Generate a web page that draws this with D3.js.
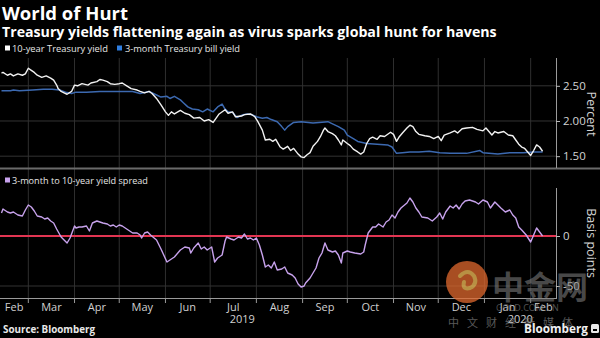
<!DOCTYPE html>
<html><head><meta charset="utf-8">
<script src="https://cdn.jsdelivr.net/npm/d3@7"></script>
<style>html,body{margin:0;padding:0;background:#000;overflow:hidden}svg{display:block}</style>
</head><body>
<script>
// ---------- DATA ----------
const tenYearDates = ["2019-02-11","2019-02-12","2019-02-15","2019-02-17","2019-02-19","2019-02-22","2019-02-25","2019-02-27","2019-03-01","2019-03-03","2019-03-05","2019-03-07","2019-03-10","2019-03-13","2019-03-16","2019-03-18","2019-03-20","2019-03-21","2019-03-23","2019-03-25","2019-03-27","2019-03-30","2019-04-01","2019-04-03","2019-04-06","2019-04-10","2019-04-12","2019-04-16","2019-04-18","2019-04-20","2019-04-23","2019-04-25","2019-04-28","2019-05-01","2019-05-03","2019-05-06","2019-05-09","2019-05-13","2019-05-15","2019-05-18","2019-05-21","2019-05-23","2019-05-26","2019-05-29","2019-06-01","2019-06-03","2019-06-05","2019-06-07","2019-06-11","2019-06-14","2019-06-17","2019-06-20","2019-06-24","2019-06-27","2019-06-30","2019-07-03","2019-07-05","2019-07-07","2019-07-11","2019-07-13","2019-07-16","2019-07-18","2019-07-22","2019-07-24","2019-07-28","2019-07-31","2019-08-02","2019-08-05","2019-08-07","2019-08-10","2019-08-12","2019-08-14","2019-08-17","2019-08-19","2019-08-22","2019-08-24","2019-08-26","2019-08-29","2019-08-31","2019-09-02","2019-09-04","2019-09-06","2019-09-08","2019-09-11","2019-09-13","2019-09-15","2019-09-16","2019-09-18","2019-09-21","2019-09-23","2019-09-25","2019-09-27","2019-09-28","2019-10-01","2019-10-03","2019-10-05","2019-10-08","2019-10-10","2019-10-12","2019-10-14","2019-10-16","2019-10-18","2019-10-21","2019-10-23","2019-10-26","2019-10-30","2019-11-01","2019-11-03","2019-11-05","2019-11-07","2019-11-10","2019-11-12","2019-11-14","2019-11-16","2019-11-18","2019-11-22","2019-11-25","2019-11-28","2019-12-01","2019-12-03","2019-12-05","2019-12-09","2019-12-12","2019-12-14","2019-12-17","2019-12-20","2019-12-24","2019-12-27","2019-12-31","2020-01-02","2020-01-04","2020-01-06","2020-01-08","2020-01-10","2020-01-14","2020-01-17","2020-01-20","2020-01-22","2020-01-24","2020-01-26","2020-01-28","2020-01-30","2020-02-01","2020-02-03","2020-02-05","2020-02-07","2020-02-09"];
const tenYearYield = [2.68,2.69,2.65,2.67,2.64,2.67,2.65,2.67,2.75,2.72,2.69,2.65,2.62,2.64,2.61,2.58,2.51,2.46,2.42,2.40,2.38,2.42,2.51,2.50,2.53,2.51,2.54,2.56,2.59,2.58,2.56,2.53,2.52,2.53,2.54,2.50,2.46,2.44,2.42,2.40,2.42,2.39,2.32,2.23,2.13,2.08,2.13,2.10,2.15,2.11,2.09,2.04,2.05,2.00,2.02,1.98,2.04,2.10,2.16,2.11,2.13,2.06,2.07,2.09,2.10,2.06,1.99,1.87,1.73,1.74,1.71,1.74,1.63,1.60,1.64,1.58,1.61,1.53,1.49,1.48,1.52,1.55,1.64,1.71,1.78,1.87,1.90,1.85,1.82,1.79,1.73,1.66,1.73,1.68,1.65,1.60,1.56,1.53,1.56,1.68,1.75,1.77,1.74,1.79,1.78,1.84,1.81,1.71,1.78,1.83,1.90,1.94,1.92,1.85,1.81,1.79,1.78,1.75,1.78,1.72,1.80,1.83,1.86,1.83,1.89,1.90,1.91,1.88,1.86,1.90,1.85,1.80,1.85,1.83,1.85,1.80,1.79,1.73,1.67,1.63,1.61,1.56,1.51,1.58,1.66,1.63,1.57];

const billDates = ["2019-02-11","2019-02-17","2019-02-19","2019-02-23","2019-03-04","2019-03-11","2019-03-17","2019-03-22","2019-03-26","2019-03-30","2019-04-02","2019-04-09","2019-04-18","2019-04-27","2019-05-06","2019-05-10","2019-05-15","2019-05-21","2019-05-26","2019-05-29","2019-06-02","2019-06-04","2019-06-07","2019-06-11","2019-06-13","2019-06-16","2019-06-19","2019-06-23","2019-06-26","2019-06-29","2019-07-03","2019-07-06","2019-07-09","2019-07-11","2019-07-13","2019-07-16","2019-07-19","2019-07-23","2019-07-26","2019-07-29","2019-08-01","2019-08-05","2019-08-08","2019-08-11","2019-08-15","2019-08-18","2019-08-20","2019-08-22","2019-08-26","2019-08-31","2019-09-08","2019-09-18","2019-09-20","2019-09-25","2019-09-29","2019-10-01","2019-10-05","2019-10-08","2019-10-14","2019-10-21","2019-10-28","2019-10-31","2019-11-03","2019-11-07","2019-11-12","2019-11-18","2019-11-25","2019-12-02","2019-12-09","2019-12-20","2019-12-29","2019-12-31","2020-01-10","2020-01-18","2020-01-27","2020-02-03","2020-02-09"];
const billYield = [2.43,2.43,2.44,2.43,2.44,2.45,2.45,2.44,2.41,2.39,2.41,2.41,2.42,2.42,2.42,2.42,2.39,2.42,2.37,2.34,2.35,2.32,2.35,2.30,2.26,2.20,2.17,2.16,2.13,2.17,2.13,2.20,2.24,2.17,2.13,2.12,2.05,2.09,2.10,2.09,2.06,2.04,2.05,2.02,1.99,1.92,1.87,1.92,1.98,1.99,1.97,1.99,1.97,1.92,1.87,1.80,1.75,1.71,1.68,1.67,1.66,1.63,1.54,1.55,1.56,1.56,1.57,1.55,1.54,1.54,1.58,1.55,1.53,1.55,1.55,1.56,1.56];

const spreadDates = ["2019-02-11","2019-02-12","2019-02-15","2019-02-17","2019-02-19","2019-02-21","2019-02-22","2019-02-25","2019-02-27","2019-03-01","2019-03-03","2019-03-05","2019-03-07","2019-03-10","2019-03-12","2019-03-14","2019-03-16","2019-03-18","2019-03-20","2019-03-23","2019-03-25","2019-03-27","2019-03-29","2019-04-01","2019-04-02","2019-04-04","2019-04-06","2019-04-09","2019-04-11","2019-04-13","2019-04-16","2019-04-18","2019-04-20","2019-04-23","2019-04-25","2019-04-27","2019-04-29","2019-05-01","2019-05-03","2019-05-06","2019-05-08","2019-05-10","2019-05-13","2019-05-15","2019-05-16","2019-05-18","2019-05-20","2019-05-22","2019-05-26","2019-05-29","2019-06-02","2019-06-04","2019-06-07","2019-06-11","2019-06-14","2019-06-17","2019-06-18","2019-06-20","2019-06-23","2019-06-25","2019-06-27","2019-06-29","2019-07-02","2019-07-04","2019-07-06","2019-07-09","2019-07-11","2019-07-12","2019-07-15","2019-07-17","2019-07-20","2019-07-22","2019-07-24","2019-07-26","2019-07-28","2019-07-30","2019-08-01","2019-08-03","2019-08-05","2019-08-07","2019-08-09","2019-08-11","2019-08-13","2019-08-15","2019-08-18","2019-08-20","2019-08-22","2019-08-25","2019-08-27","2019-08-29","2019-08-31","2019-09-02","2019-09-03","2019-09-06","2019-09-10","2019-09-12","2019-09-14","2019-09-16","2019-09-18","2019-09-21","2019-09-23","2019-09-25","2019-09-27","2019-09-28","2019-10-01","2019-10-03","2019-10-06","2019-10-10","2019-10-12","2019-10-13","2019-10-15","2019-10-18","2019-10-20","2019-10-22","2019-10-25","2019-10-27","2019-10-29","2019-10-31","2019-11-02","2019-11-04","2019-11-06","2019-11-10","2019-11-12","2019-11-14","2019-11-16","2019-11-18","2019-11-20","2019-11-24","2019-11-27","2019-11-30","2019-12-02","2019-12-04","2019-12-06","2019-12-09","2019-12-11","2019-12-13","2019-12-15","2019-12-17","2019-12-19","2019-12-22","2019-12-26","2019-12-28","2019-12-31","2020-01-03","2020-01-05","2020-01-08","2020-01-12","2020-01-15","2020-01-18","2020-01-20","2020-01-22","2020-01-24","2020-01-26","2020-01-29","2020-02-01","2020-02-03","2020-02-05","2020-02-07","2020-02-09"];
const spreadBp = [23,27,24,23,24,22,21,20,26,31,29,25,20,19,17,18,15,13,7,-1,-4,-7,-2,10,8,9,9,10,5,13,15,14,13,12,10,11,9,11,10,7,5,3,3,1,-2,3,4,1,-4,-13,-26,-24,-21,-14,-11,-12,-17,-12,-7,-13,-11,-14,-11,-26,-22,-19,-5,-1,-3,-4,-1,-2,2,-3,-2,-4,-2,-9,-19,-31,-29,-32,-26,-34,-33,-31,-37,-39,-42,-48,-51,-50,-47,-42,-32,-22,-17,-7,-14,-16,-15,-19,-27,-17,-15,-16,-17,-18,-16,-9,3,9,9,12,9,14,16,21,18,24,28,33,38,34,28,24,19,18,15,19,23,17,24,30,28,31,27,32,35,36,34,32,36,34,28,34,28,24,26,21,18,9,6,1,-6,1,8,4,0];

const xDomain = ["2019-02-10","2020-02-18"];
const percentTicks = [1.5, 2.0, 2.5];
const percentTickLabels = ["1.50","2.00","2.50"];
const bpTicks = [0, -50];
const bpTickLabels = ["0","-50"];
const yearLabels = ["2019","2020"];

// ---------- CHART ----------
const W = 600, H = 338;
const parse = d3.utcParse("%Y-%m-%d");
const FONT = "'Open Sans', 'DejaVu Sans', sans-serif";

const svg = d3.select("body").append("svg").attr("width", W).attr("height", H)
  .style("background", "#000").attr("font-family", FONT);

const plotR = 556;
const x = d3.scaleUtc().domain(xDomain.map(parse)).range([0, plotR]);
const yTop = d3.scaleLinear().domain([1.332, 2.895]).range([168, 58]);
const yBot = d3.scaleLinear().domain([-62, 67]).range([298, 169]);

function fit(sel, target) {
  const w = sel.node().getComputedTextLength();
  const fs = parseFloat(sel.attr("font-size"));
  if (w > 0) sel.attr("font-size", (fs * target / w).toFixed(2));
  return sel;
}

// titles
fit(svg.append("text").attr("x", 2).attr("y", 20).attr("font-size", 18).attr("font-weight", 700)
  .attr("fill", "#fff").text("World of Hurt"), 126);
fit(svg.append("text").attr("x", 2).attr("y", 37).attr("font-size", 14).attr("font-weight", 700)
  .attr("fill", "#fff").text("Treasury yields flattening again as virus sparks global hunt for havens"), 495);

// months
const months = d3.utcMonth.range(d3.utcMonth.floor(x.domain()[0]), x.domain()[1]);
const monthStarts = months.filter(m => m > x.domain()[0]);

// vertical gridlines
svg.append("g").selectAll("line").data(monthStarts).join("line")
  .attr("x1", d => x(d)).attr("x2", d => x(d))
  .attr("y1", 58).attr("y2", 298)
  .attr("stroke", "#2f2f2f").attr("stroke-width", 1);

// horizontal gridlines top panel
svg.append("g").selectAll("line").data(percentTicks).join("line")
  .attr("x1", 0).attr("x2", plotR)
  .attr("y1", d => yTop(d)).attr("y2", d => yTop(d))
  .attr("stroke", "#333").attr("stroke-width", 1);
// bottom panel -50 gridline
svg.append("line").attr("x1", 0).attr("x2", plotR)
  .attr("y1", yBot(-50)).attr("y2", yBot(-50)).attr("stroke", "#333");

// panel separator
svg.append("line").attr("x1", 0).attr("x2", 600).attr("y1", 168.5).attr("y2", 168.5)
  .attr("stroke", "#6a6a6a").attr("stroke-width", 2);

// zero line
svg.append("line").attr("x1", 0).attr("x2", plotR)
  .attr("y1", yBot(0)).attr("y2", yBot(0))
  .attr("stroke", "#e23552").attr("stroke-width", 2);

// lines
const tenData = tenYearDates.map((d, i) => [parse(d), tenYearYield[i]]);
const billData = billDates.map((d, i) => [parse(d), billYield[i]]);
const spreadData = spreadDates.map((d, i) => [parse(d), spreadBp[i]]);

const lineTop = d3.line().x(d => x(d[0])).y(d => yTop(d[1]));
const lineBot = d3.line().x(d => x(d[0])).y(d => yBot(d[1]));

svg.append("path").datum(billData).attr("d", lineTop).attr("fill", "none")
  .attr("stroke", "#3c69b0").attr("stroke-width", 1.5).attr("stroke-linejoin", "round");
svg.append("path").datum(tenData).attr("d", lineTop).attr("fill", "none")
  .attr("stroke", "#f2f2f2").attr("stroke-width", 1.4).attr("stroke-linejoin", "round");
svg.append("path").datum(spreadData).attr("d", lineBot).attr("fill", "none")
  .attr("stroke", "#c7a2ec").attr("stroke-width", 1.4).attr("stroke-linejoin", "round");

// legends
svg.append("rect").attr("x", 5).attr("y", 45.5).attr("width", 5).attr("height", 5).attr("fill", "#fff");
fit(svg.append("text").attr("x", 12).attr("y", 51.5).attr("font-size", 10).attr("fill", "#e6e6e6")
  .text("10-year Treasury yield"), 96);
svg.append("rect").attr("x", 117).attr("y", 45.5).attr("width", 5).attr("height", 5).attr("fill", "#2f7ee0");
fit(svg.append("text").attr("x", 125).attr("y", 51.5).attr("font-size", 10).attr("fill", "#e6e6e6")
  .text("3-month Treasury bill yield"), 115);

svg.append("rect").attr("x", 5).attr("y", 177.5).attr("width", 5).attr("height", 5).attr("fill", "#c9a3ee");
fit(svg.append("text").attr("x", 12).attr("y", 183.5).attr("font-size", 10).attr("fill", "#e6e6e6")
  .text("3-month to 10-year yield spread"), 136);

// right axes
svg.append("line").attr("x1", plotR + 0.5).attr("x2", plotR + 0.5).attr("y1", 58).attr("y2", 168)
  .attr("stroke", "#9a9a9a");
svg.append("line").attr("x1", plotR + 0.5).attr("x2", plotR + 0.5).attr("y1", 188).attr("y2", 298)
  .attr("stroke", "#9a9a9a");

const axTop = svg.append("g").attr("transform", `translate(${plotR},0)`)
  .call(d3.axisRight(yTop).tickValues(percentTicks).tickSize(4).tickPadding(3)
    .tickFormat((d, i) => percentTickLabels[i]));
const axBot = svg.append("g").attr("transform", `translate(${plotR},0)`)
  .call(d3.axisRight(yBot).tickValues(bpTicks).tickSize(4).tickPadding(3)
    .tickFormat((d, i) => bpTickLabels[i]));
[axTop, axBot].forEach(g => {
  g.select(".domain").remove();
  g.selectAll(".tick line").attr("stroke", "#bbb");
  g.selectAll(".tick text").attr("fill", "#d4d4d4").attr("font-size", 11.5).attr("font-family", FONT);
});

svg.append("text").attr("transform", "translate(587,114) rotate(90)").attr("text-anchor", "middle")
  .attr("font-size", 12.5).attr("fill", "#d4d4d4").text("Percent");
svg.append("text").attr("transform", "translate(587,243) rotate(90)").attr("text-anchor", "middle")
  .attr("font-size", 12.5).attr("fill", "#d4d4d4").text("Basis points");

// bottom axis
svg.append("line").attr("x1", 0).attr("x2", plotR + 1).attr("y1", 298.5).attr("y2", 298.5)
  .attr("stroke", "#9a9a9a");
svg.append("g").selectAll("line").data(monthStarts).join("line")
  .attr("x1", d => x(d)).attr("x2", d => x(d)).attr("y1", 299).attr("y2", 303)
  .attr("stroke", "#9a9a9a");

const fmtMonth = d3.utcFormat("%b");
svg.append("g").selectAll("text").data(months).join("text")
  .attr("x", d => {
    const a = Math.max(x(d), 0), b = Math.min(x(d3.utcMonth.offset(d, 1)), plotR);
    return (a + b) / 2;
  })
  .attr("y", 311).attr("text-anchor", "middle").attr("font-size", 11).attr("fill", "#d0d0d0")
  .text(d => fmtMonth(d));

const years = [parse("2019-01-01"), parse("2020-01-01")];
svg.append("g").selectAll("text").data(years).join("text")
  .attr("x", (d, i) => {
    const a = Math.max(x(d), 0), b = Math.min(x(d3.utcYear.offset(d, 1)), plotR);
    return (a + b) / 2;
  })
  .attr("y", 323).attr("text-anchor", "middle").attr("font-size", 11).attr("fill", "#d0d0d0")
  .text((d, i) => yearLabels[i]);

// footer
fit(svg.append("text").attr("x", 3).attr("y", 333).attr("font-size", 9.5).attr("font-weight", 700)
  .attr("fill", "#e8e8e8").text("Source: Bloomberg"), 92);

// watermark (site overlay in the reference)
const wm = svg.append("g").attr("opacity", 0.75);
wm.append("circle").attr("cx", 467).attr("cy", 282).attr("r", 21).attr("fill", "#e0692e");
wm.append("path").attr("d", "M460,276 q8,-8 14,0 q4,8 -4,12 q-8,2 -6,-6")
  .attr("fill", "none").attr("stroke", "#f6c05a").attr("stroke-width", 4).attr("stroke-linecap", "round");
wm.append("text").attr("x", 492).attr("y", 299).attr("font-size", 32).attr("font-weight", 700)
  .attr("font-family", "'Noto Sans CJK SC', sans-serif").attr("fill", "#7a7a7a").attr("opacity", 0.8).text("中金网");
wm.append("text").attr("x", 496).attr("y", 311).attr("font-size", 9).attr("fill", "#888")
  .attr("opacity", 0.8).text("GOLD.COM.CN");
wm.append("text").attr("x", 448).attr("y", 327).attr("font-size", 11)
  .attr("font-family", "'Noto Sans CJK SC', sans-serif").attr("fill", "#777")
  .attr("letter-spacing", 8).text("中文财经新媒体");

// Bloomberg logo
fit(svg.append("text").attr("x", 524).attr("y", 333).attr("font-size", 11).attr("font-weight", 700)
  .attr("fill", "#f0f0f0").text("Bloomberg"), 64);
svg.append("rect").attr("x", 591).attr("y", 324).attr("width", 8).attr("height", 9).attr("rx", 1.5)
  .attr("fill", "#e8e8e8");
svg.append("rect").attr("x", 593).attr("y", 329).attr("width", 4).attr("height", 2).attr("fill", "#000");
</script>
</body></html>
